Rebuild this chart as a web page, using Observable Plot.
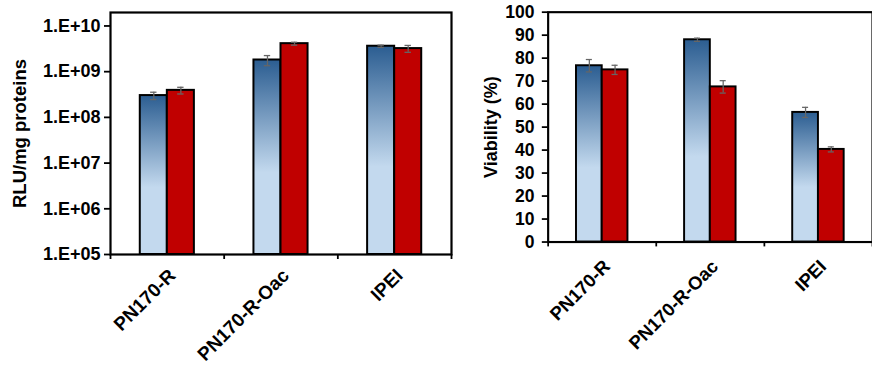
<!DOCTYPE html>
<html><head><meta charset="utf-8">
<script src="https://cdn.jsdelivr.net/npm/d3@7"></script>
<script src="https://cdn.jsdelivr.net/npm/@observablehq/plot@0.6"></script>
<style>
html,body{margin:0;padding:0;background:#fff}
body{overflow:hidden;width:872px;height:365px;position:relative}
#left{position:absolute;left:0;top:0}
#right{position:absolute;left:460px;top:0}
svg text{font-family:'Liberation Sans',Arial,sans-serif !important;font-weight:bold !important;fill:#000}
</style></head><body>
<div id="left"></div><div id="right"></div>
<script>
// ---- data ----
const categories = ["PN170-R", "PN170-R-Oac", "IPEI"];
const rluBlue    = [3.0e8, 1.8e9, 3.6e9];
const rluBlueErr = [0.55e8, 0.45e9, 0.2e9];
const rluRed     = [3.9e8, 4.1e9, 3.2e9];
const rluRedErr  = [0.65e8, 0.3e9, 0.55e9];
const viaBlue    = [76.7, 88.0, 56.4];
const viaBlueErr = [2.7, 0.7, 2.2];
const viaRed     = [74.9, 67.5, 40.3];
const viaRedErr  = [2.0, 2.7, 1.1];
const rluTicks   = [1e5, 1e6, 1e7, 1e8, 1e9, 1e10];
const viaTicks   = [0, 10, 20, 30, 40, 50, 60, 70, 80, 90, 100];
const rluTitle   = "RLU/mg proteins";
const viaTitle   = "Viability (%)";

function panel(o) {
  const rows = [];
  categories.forEach((c, i) => {
    rows.push({i, s: 0, v: o.blue[i], e: o.blueErr[i]});
    rows.push({i, s: 1, v: o.red[i], e: o.redErr[i]});
  });
  const BW = 0.238, CAP = 0.028;
  const x1 = d => d.s === 0 ? d.i - BW : d.i;
  const x2 = d => d.s === 0 ? d.i : d.i + BW;
  const xc = d => d.s === 0 ? d.i - BW / 2 : d.i + BW / 2;
  const svg = Plot.plot({
    width: o.width, height: 365,
    marginLeft: o.marginLeft, marginRight: o.marginRight, marginTop: 12, marginBottom: o.marginBottom,
    style: {background: "transparent", overflow: "visible"},
    x: {type: "linear", domain: [-0.5, 2.5]},
    y: o.y,
    marks: [
      Plot.rectY(rows.filter(d => d.s === 0), {x1, x2, y1: () => o.base, y2: "v", fill: `url(#${o.gid})`, stroke: "#000", strokeWidth: 2}),
      Plot.rectY(rows.filter(d => d.s === 1), {x1, x2, y1: () => o.base, y2: "v", fill: "#c00000", stroke: "#000", strokeWidth: 2}),
      Plot.ruleX(rows, {x: xc, y1: d => d.v - d.e, y2: d => d.v + d.e, stroke: "#666", strokeWidth: 1.3}),
      Plot.ruleY(rows, {y: d => d.v + d.e, x1: d => xc(d) - CAP, x2: d => xc(d) + CAP, stroke: "#666", strokeWidth: 1.3}),
      Plot.ruleY(rows, {y: d => d.v - d.e, x1: d => xc(d) - CAP, x2: d => xc(d) + CAP, stroke: "#666", strokeWidth: 1.3}),
      Plot.axisY({ticks: o.ticks, tickFormat: o.fmt, tickSize: 6, tickPadding: o.yPad, strokeWidth: 1.8, label: null, fontSize: 18}),
      Plot.axisX({ticks: [-0.5, 0.5, 1.5, 2.5], tickSize: 5, tickFormat: () => "", strokeWidth: 1.8, label: null}),
      Plot.axisX({ticks: [0, 1, 2], tickSize: 0, tickFormat: i => categories[i], tickRotate: -45, tickPadding: o.xPad, dx: o.xDx, label: null, fontSize: 19}),
      Plot.frame({stroke: "#000", strokeWidth: 2.2}),
      Plot.text([o.title], {text: d => d, frameAnchor: "left", textAnchor: "middle", rotate: -90, dx: o.titleDx, fontSize: 18.5})
    ]
  });
  d3.select(svg).insert("defs", ":first-child").html(
    `<linearGradient id="${o.gid}" x1="0" y1="0" x2="0" y2="1">
       <stop offset="0" stop-color="#2b5d91"/>
       <stop offset="0.58" stop-color="#c3d9ee"/>
       <stop offset="1" stop-color="#c3d9ee"/>
     </linearGradient>`);
  return svg;
}

const expFmt = d => "1.E+" + String(Math.round(Math.log10(d))).padStart(2, "0");

document.getElementById("left").append(panel({
  width: 460, marginLeft: 110, marginRight: 9, marginBottom: 111,
  y: {type: "log", domain: [1e5, 1.97e10]}, base: 1e5,
  ticks: rluTicks, fmt: expFmt, yPad: 4, xPad: 18, xDx: 5,
  blue: rluBlue, blueErr: rluBlueErr, red: rluRed, redErr: rluRedErr,
  title: rluTitle, titleDx: -90, gid: "gradL"
}));
document.getElementById("right").append(panel({
  width: 423, marginLeft: 90, marginRight: 0, marginBottom: 117,
  y: {type: "linear", domain: [0, 100]}, base: 0,
  ticks: viaTicks, fmt: d => String(d), yPad: 8, xPad: 22, xDx: 5,
  blue: viaBlue, blueErr: viaBlueErr, red: viaRed, redErr: viaRedErr,
  title: viaTitle, titleDx: -58, gid: "gradR"
}));
</script>
</body></html>
